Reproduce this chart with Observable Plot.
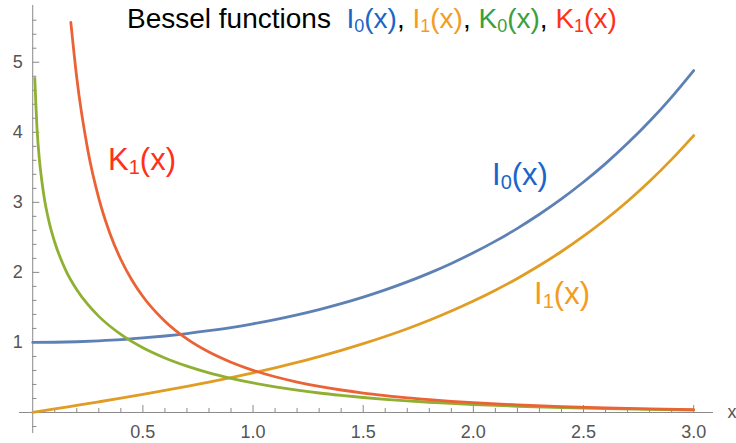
<!DOCTYPE html>
<html>
<head>
<meta charset="utf-8">
<script src="https://cdn.jsdelivr.net/npm/d3@7"></script>
<script src="https://cdn.jsdelivr.net/npm/@observablehq/plot@0.6"></script>
<style>
  html, body { margin: 0; padding: 0; background: #fff; }
  #chart svg { display: block; }
</style>
</head>
<body>
<div id="chart"></div>
<script>
// ---- data ----
const xI = [0,0.1,0.2,0.3,0.4,0.5,0.6,0.7,0.8,0.9,1.0,1.1,1.2,1.3,1.4,1.5,1.6,1.7,1.8,1.9,2.0,2.1,2.2,2.3,2.4,2.5,2.6,2.7,2.8,2.9,3.0];
const i0Vals = [1.000,1.003,1.010,1.023,1.040,1.064,1.092,1.126,1.167,1.213,1.266,1.326,1.394,1.469,1.553,1.647,1.750,1.864,1.990,2.128,2.280,2.446,2.629,2.830,3.049,3.290,3.553,3.842,4.157,4.503,4.881];
const i1Vals = [0.000,0.050,0.101,0.152,0.204,0.258,0.314,0.372,0.433,0.497,0.565,0.638,0.715,0.797,0.886,0.982,1.085,1.196,1.317,1.448,1.591,1.746,1.914,2.098,2.298,2.517,2.755,3.016,3.301,3.613,3.953];
const xK0 = [0.0095,0.02,0.03,0.04,0.05,0.075,0.1,0.15,0.2,0.25,0.3,0.4,0.5,0.6,0.7,0.8,0.9,1.0,1.1,1.2,1.3,1.4,1.5,1.6,1.7,1.8,1.9,2.0,2.2,2.4,2.6,2.8,3.0];
const k0Vals = [4.77,4.03,3.62,3.34,3.11,2.71,2.43,2.03,1.753,1.542,1.372,1.115,0.924,0.778,0.661,0.565,0.487,0.421,0.366,0.319,0.278,0.244,0.214,0.188,0.166,0.146,0.129,0.114,0.089,0.070,0.055,0.044,0.035];
const xK1 = [0.173,0.2,0.25,0.3,0.35,0.4,0.45,0.5,0.6,0.7,0.8,0.9,1.0,1.1,1.2,1.3,1.4,1.5,1.6,1.7,1.8,1.9,2.0,2.2,2.4,2.6,2.8,3.0];
const k1Vals = [5.57,4.776,3.747,3.056,2.559,2.184,1.892,1.656,1.303,1.050,0.862,0.717,0.602,0.510,0.435,0.373,0.321,0.277,0.241,0.209,0.183,0.160,0.140,0.108,0.084,0.065,0.051,0.040];

const xMajorTicks = [0.5,1.0,1.5,2.0,2.5,3.0];
const xTickLabels = ["0.5","1.0","1.5","2.0","2.5","3.0"];
const yMajorTicks = [1,2,3,4,5];
const yTickLabels = ["1","2","3","4","5"];
const xMinorTicks = d3.range(1,31).map(i => i/10).filter(v => Math.abs(v*2 - Math.round(v*2)) > 1e-6);
const yMinorTicks = [-0.2].concat(d3.range(1,29).map(i => i/5).filter(v => Math.abs(v - Math.round(v)) > 1e-6));

const seriesNames = ["I0","I1","K0","K1"];
const lineColors = {I0:"#5E81B5", I1:"#E19C24", K0:"#8FB032", K1:"#EB6235"};
const textColors = {I0:"#1A66C8", I1:"#F39C1E", K0:"#3C9E3C", K1:"#FF3118"};

const curveLabels = [
  {key:"I0", name:"I", sub:"0", x:2.087, y:3.24},
  {key:"I1", name:"I", sub:"1", x:2.278, y:1.54},
  {key:"K1", name:"K", sub:"1", x:0.344, y:3.46}
];

// ---- build table ----
const rows = [];
xI.forEach((x,i) => rows.push({series:"I0", x, y:i0Vals[i]}));
xI.forEach((x,i) => rows.push({series:"I1", x, y:i1Vals[i]}));
xK0.forEach((x,i) => rows.push({series:"K0", x, y:k0Vals[i]}));
xK1.forEach((x,i) => rows.push({series:"K1", x, y:k1Vals[i]}));

const axisColor = "#8a8a8a";
const labelColor = "#555";
const font = "'Liberation Sans', Arial, Helvetica, sans-serif";

const chart = Plot.plot({
  width: 736, height: 443,
  marginLeft: 19, marginRight: 23, marginTop: 5, marginBottom: 10,
  x: {domain: [-0.06, 3.09], axis: null},
  y: {domain: [-0.3, 5.81], axis: null},
  color: {domain: seriesNames, range: seriesNames.map(s => lineColors[s])},
  style: {fontFamily: font, background: "#fff"},
  marks: [
    Plot.ruleY([0], {stroke: axisColor, strokeWidth: 1}),
    Plot.ruleX([0], {stroke: axisColor, strokeWidth: 1}),
    Plot.ruleX(xMajorTicks, {x: d => d, y1: 0, y2: 0.1, stroke: axisColor}),
    Plot.ruleX(xMinorTicks, {x: d => d, y1: 0, y2: 0.058, stroke: axisColor}),
    Plot.ruleY(yMajorTicks, {y: d => d, x1: 0, x2: 0.032, stroke: axisColor}),
    Plot.ruleY(yMinorTicks, {y: d => d, x1: 0, x2: 0.019, stroke: axisColor}),
    Plot.text(xMajorTicks, {x: d => d, y: 0, dy: 20, text: (d,i) => xTickLabels[i], fill: labelColor, fontSize: 18}),
    Plot.text(yMajorTicks, {x: 0, y: d => d, dx: -10, text: (d,i) => yTickLabels[i], fill: labelColor, fontSize: 18, textAnchor: "end"}),
    Plot.text(["x"], {x: 3.09, y: 0, dx: 14, text: d => d, fill: labelColor, fontSize: 18, textAnchor: "start"}),
    Plot.line(rows, {x: "x", y: "y", z: "series", stroke: "series", strokeWidth: 2.8, curve: "monotone-x"})
  ]
});

document.getElementById("chart").appendChild(chart);

// ---- annotations with subscripts ----
const svg = d3.select(chart);
const sx = chart.scale("x"), sy = chart.scale("y");

curveLabels.forEach(l => {
  const t = svg.append("text")
    .attr("x", sx.apply(l.x)).attr("y", sy.apply(l.y))
    .attr("text-anchor", "start")
    .attr("fill", textColors[l.key])
    .attr("font-family", font).attr("font-size", 31);
  t.append("tspan").text(l.name);
  t.append("tspan").attr("font-size", 20).attr("dy", 4).text(l.sub);
  t.append("tspan").attr("dy", -4).text("(x)");
});

// title
const title = svg.append("text")
  .attr("x", 127).attr("y", 28)
  .attr("text-anchor", "start")
  .attr("font-family", font).attr("font-size", 28).attr("fill", "#000");
title.append("tspan").text("Bessel functions  ");
const titleParts = [
  {key:"I0", name:"I", sub:"0", sep:", "},
  {key:"I1", name:"I", sub:"1", sep:", "},
  {key:"K0", name:"K", sub:"0", sep:", "},
  {key:"K1", name:"K", sub:"1", sep:""}
];
titleParts.forEach(p => {
  title.append("tspan").attr("fill", textColors[p.key]).text(p.name);
  title.append("tspan").attr("fill", textColors[p.key]).attr("font-size", 18).attr("dy", 4).text(p.sub);
  title.append("tspan").attr("fill", textColors[p.key]).attr("dy", -4).text("(x)");
  if (p.sep) title.append("tspan").attr("fill", "#000").text(p.sep);
});
</script>
</body>
</html>
